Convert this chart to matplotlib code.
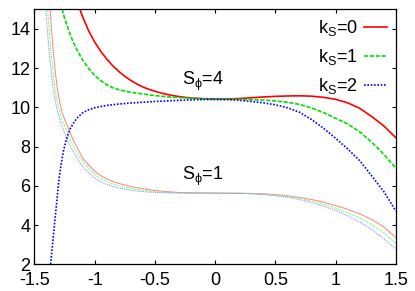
import numpy as np
from matplotlib import pyplot as plt

plt.rcParams['font.family'] = ['Liberation Sans', 'DejaVu Sans']
plt.rcParams['mathtext.fontset'] = 'custom'
plt.rcParams['mathtext.rm'] = 'Liberation Sans'
plt.rcParams['mathtext.it'] = 'Liberation Sans'

# S_phi = 4 curves (thick)
x_s4_k0 = [-1.123, -1.10, -1.05, -1.00, -0.95, -0.90, -0.85, -0.80, -0.75, -0.70, -0.65, -0.60,
           -0.55, -0.50, -0.45, -0.40, -0.35, -0.30, -0.25, -0.20, -0.15, -0.10, 0.0, 0.1,
           0.2, 0.3, 0.4, 0.5, 0.6, 0.7, 0.8, 0.9, 1.0, 1.1, 1.2, 1.3, 1.4, 1.5]
y_s4_k0 = [15.0, 14.62, 13.9, 13.33, 12.86, 12.46, 12.12, 11.83, 11.58, 11.37, 11.19, 11.04,
           10.92, 10.82, 10.73, 10.66, 10.60, 10.55, 10.51, 10.48, 10.46, 10.44, 10.43, 10.43,
           10.45, 10.49, 10.53, 10.56, 10.58, 10.59, 10.57, 10.51, 10.41, 10.23, 9.95, 9.53, 9.05, 8.45]
x_s4_k1 = [-1.27, -1.25, -1.22, -1.18, -1.14, -1.10, -1.05, -1.00, -0.95, -0.90, -0.85, -0.80,
           -0.75, -0.70, -0.60, -0.50, -0.40, -0.30, -0.20, -0.10, 0.0, 0.1, 0.2, 0.3, 0.4,
           0.5, 0.6, 0.7, 0.8, 0.9, 1.0, 1.1, 1.2, 1.3, 1.4, 1.5]
y_s4_k1 = [15.0, 14.55, 14.0, 13.35, 12.85, 12.42, 11.98, 11.63, 11.36, 11.15, 11.0, 10.9,
           10.83, 10.77, 10.68, 10.6, 10.54, 10.5, 10.47, 10.44, 10.43, 10.42, 10.41, 10.39, 10.37,
           10.33, 10.26, 10.15, 9.97, 9.73, 9.44, 9.15, 8.75, 8.22, 7.6, 6.9]
x_s4_k2 = [-1.366, -1.355, -1.344, -1.33, -1.316, -1.30, -1.28, -1.26, -1.24, -1.22, -1.20,
           -1.17, -1.14, -1.10, -1.05, -1.00, -0.90, -0.80, -0.70, -0.60, -0.50, -0.40, -0.30,
           -0.20, -0.10, 0.0, 0.1, 0.2, 0.3, 0.4, 0.5, 0.6, 0.7, 0.8, 0.9, 1.0, 1.1, 1.2,
           1.3, 1.4, 1.5]
y_s4_k2 = [2.0, 2.7, 3.4, 4.25, 5.1, 6.15, 7.05, 7.75, 8.25, 8.65, 8.95,
           9.25, 9.5, 9.72, 9.88, 9.98, 10.1, 10.17, 10.22, 10.26, 10.3, 10.33, 10.36,
           10.38, 10.4, 10.4, 10.39, 10.36, 10.3, 10.23, 10.13, 9.98, 9.75, 9.38, 8.93, 8.42, 7.88, 7.28,
           6.5, 5.7, 4.71]

# S_phi = 1 curves (thin)
x_s1_k0 = [-1.37, -1.36, -1.35, -1.34, -1.33, -1.32, -1.31, -1.29, -1.27, -1.25, -1.22, -1.18,
           -1.14, -1.10, -1.05, -1.00, -0.95, -0.90, -0.85, -0.80, -0.70, -0.60, -0.50, -0.40,
           -0.30, -0.20, 0.0, 0.2, 0.3, 0.4, 0.5, 0.6, 0.7, 0.8, 0.9, 1.0, 1.1, 1.2, 1.3, 1.4, 1.5]
y_s1_k0 = [15.0, 14.1, 13.35, 12.65, 12.0, 11.45, 10.95, 10.25, 9.72, 9.4, 8.95, 8.35,
           7.88, 7.42, 7.05, 6.75, 6.52, 6.35, 6.22, 6.12, 5.96, 5.85, 5.76, 5.7,
           5.66, 5.64, 5.63, 5.62, 5.61, 5.59, 5.55, 5.49, 5.41, 5.3, 5.16, 4.99, 4.8, 4.57, 4.28, 3.9, 3.35]
x_s1_k1 = [-1.39, -1.38, -1.37, -1.36, -1.35, -1.34, -1.33, -1.31, -1.29, -1.27, -1.24, -1.20,
           -1.16, -1.12, -1.07, -1.02, -0.97, -0.92, -0.87, -0.80, -0.70, -0.60, -0.50, -0.40,
           -0.30, -0.20, 0.0, 0.2, 0.3, 0.4, 0.5, 0.6, 0.7, 0.8, 0.9, 1.0, 1.1, 1.2, 1.3, 1.4, 1.5]
y_s1_k1 = [15.0, 14.1, 13.35, 12.65, 12.0, 11.45, 10.95, 10.25, 9.72, 9.35, 8.9, 8.3,
           7.82, 7.42, 7.02, 6.7, 6.46, 6.28, 6.14, 6.0, 5.86, 5.77, 5.7, 5.66,
           5.64, 5.63, 5.63, 5.62, 5.6, 5.57, 5.52, 5.45, 5.36, 5.22, 5.06, 4.86, 4.62, 4.35, 4.02, 3.6, 3.07]
x_s1_k2 = [-1.405, -1.395, -1.385, -1.375, -1.365, -1.355, -1.345, -1.325, -1.305, -1.285, -1.26,
           -1.22, -1.18, -1.14, -1.09, -1.04, -0.99, -0.94, -0.89, -0.80, -0.70, -0.60, -0.50,
           -0.40, -0.30, 0.0, 0.2, 0.3, 0.4, 0.5, 0.6, 0.7, 0.8, 0.9, 1.0, 1.1, 1.2, 1.3, 1.4, 1.5]
y_s1_k2 = [15.0, 14.1, 13.35, 12.65, 12.0, 11.45, 10.95, 10.25, 9.72, 9.3, 8.85,
           8.25, 7.75, 7.33, 6.92, 6.6, 6.36, 6.18, 6.05, 5.88, 5.77, 5.7, 5.66,
           5.64, 5.63, 5.62, 5.61, 5.59, 5.55, 5.49, 5.41, 5.3, 5.14, 4.96, 4.74, 4.47, 4.15, 3.77, 3.3, 2.78]

xticks = [-1.5, -1, -0.5, 0, 0.5, 1, 1.5]
xticklabels = ['-1.5', '-1', '-0.5', '0', '0.5', '1', '1.5']
yticks = [2, 4, 6, 8, 10, 12, 14]

fig = plt.figure(figsize=(4.15, 2.91), dpi=100)
ax = fig.add_axes([0.083, 0.092, 0.871, 0.876])

ax.plot(x_s1_k0, y_s1_k0, color='#ff8080', lw=0.7)
ax.plot(x_s1_k1, y_s1_k1, color='#80ff80', lw=0.7, ls=(0, (3, 1)))
ax.plot(x_s1_k2, y_s1_k2, color='#8080ff', lw=0.7, ls=(0, (1, 1)))

ax.plot(x_s4_k0, y_s4_k0, color='#ff0000', lw=1.2, label=r'k$_\mathregular{S}$=0')
ax.plot(x_s4_k1, y_s4_k1, color='#00e000', lw=1.2, ls=(0, (2.5, 1)), label=r'k$_\mathregular{S}$=1')
ax.plot(x_s4_k2, y_s4_k2, color='#0000ff', lw=1.2, ls=(0, (1, 1)), label=r'k$_\mathregular{S}$=2')

ax.text(-0.1, 11.3, r'S$_\phi$=4', fontsize=13, ha='center', va='center')
ax.text(-0.1, 6.5, r'S$_\phi$=1', fontsize=13, ha='center', va='center')

ax.set_xlim(-1.5, 1.5)
ax.set_ylim(2, 15)
ax.set_xticks(xticks)
ax.set_xticklabels(xticklabels)
ax.set_yticks(yticks)
ax.tick_params(direction='in', length=3, width=0.8, top=True, right=True, labelsize=13)
ax.tick_params(axis='x', pad=5.5)
ax.tick_params(axis='y', pad=3)
for s in ax.spines.values():
    s.set_linewidth(0.9)

leg = ax.legend(loc='upper right', frameon=False, markerfirst=False, fontsize=13,
                handlelength=1.25, handletextpad=0.35, labelspacing=0.5,
                borderaxespad=0.1)

# y label, cut off at the left edge
fig.text(-0.015, 0.56, 'V', rotation=90, fontsize=13, ha='center', va='center')

fig.savefig('out.png', dpi=100)
